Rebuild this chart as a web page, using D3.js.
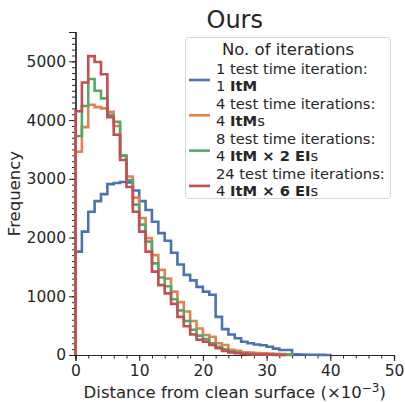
<!doctype html>
<html lang="en">
<head>
<meta charset="utf-8">
<script src="https://d3js.org/d3.v7.min.js"></script>
<style>
  body { margin: 0; background: #fff; }
  text { font-family: "DejaVu Sans", sans-serif; fill: #262626; }
</style>
</head>
<body>
<svg id="chart" width="405" height="402"></svg>
<script>
// histogram counts per bin, bins are 1 unit (x10^-3) wide starting at 0
var blueCounts = [1760, 2100, 2440, 2620, 2740, 2910, 2930, 2945, 2940, 2800,
  2620, 2470, 2270, 2075, 1945, 1740, 1540, 1365, 1270, 1160,
  1080, 1025, 650, 440, 350, 285, 225, 200, 180, 165,
  140, 108, 85, 85, 10, 8, 5, 4, 2, 1];
var orangeCounts = [3460, 3880, 4260, 4220, 4200, 4140, 3900, 3400, 3040, 2680,
  2330, 1990, 1700, 1450, 1300, 1080, 900, 740, 580, 450,
  340, 310, 200, 170, 90, 70, 45, 40, 35, 30,
  25, 22, 18, 12];
var greenCounts = [3730, 4240, 4700, 4500, 4370, 4090, 3970, 3390, 2980, 2560,
  2220, 1930, 1560, 1320, 1170, 950, 760, 580, 430, 330,
  270, 200, 140, 95, 60, 40, 28, 20, 13, 9,
  6, 4, 2, 1];
var redCounts = [4150, 4640, 5090, 4990, 4780, 4050, 3750, 3320, 2860, 2440,
  2100, 1760, 1420, 1190, 1050, 870, 650, 490, 350, 260,
  225, 170, 115, 70, 45, 30, 20, 14, 9, 6,
  4, 2, 1];

var seriesNames = ["blue", "orange", "green", "red"];
var seriesColors = ["#4C72B0", "#DD8452", "#55A868", "#C44E52"];
var legendFirst = ["1 test time iteration:", "4 test time iterations:", "8 test time iterations:", "24 test time iterations:"];
var legendSecond = [
  [["1 ", false], ["ItM", true]],
  [["4 ", false], ["ItM", true], ["s", false]],
  [["4 ", false], ["ItM \u00d7 2 EI", true], ["s", false]],
  [["4 ", false], ["ItM \u00d7 6 EI", true], ["s", false]]
];
var xTicks = [0, 10, 20, 30, 40, 50];
var yTicks = [0, 1000, 2000, 3000, 4000, 5000];

var allCounts = [blueCounts, orangeCounts, greenCounts, redCounts];

var svg = d3.select("#chart");
var plotL = 75.5, plotR = 394, plotT = 32, plotB = 355;

var x = d3.scaleLinear().domain([0, 50]).range([plotL, plotR]);
var y = d3.scaleLinear().domain([0, 5500]).range([plotB, plotT]);

// minor ticks first so majors draw over them
var xAxis = d3.axisBottom(x).tickValues(xTicks).tickSize(6).tickPadding(4).tickFormat(d3.format("d"));
var xMinor = d3.axisBottom(x).tickValues(d3.range(0, 51, 2)).tickSize(3.5).tickFormat("");
var yAxis = d3.axisLeft(y).tickValues(yTicks).tickSize(6.5).tickPadding(3).tickFormat(d3.format("d"));
var yMinor = d3.axisLeft(y).tickValues(d3.range(0, 5501, 100)).tickSize(3.5).tickFormat("");

svg.append("g").attr("transform", "translate(0," + plotB + ")").call(xMinor);
svg.append("g").attr("transform", "translate(" + plotL + ",0)").call(yMinor);
var gx = svg.append("g").attr("transform", "translate(0," + plotB + ")").call(xAxis);
var gy = svg.append("g").attr("transform", "translate(" + plotL + ",0)").call(yAxis);

svg.selectAll(".domain").attr("stroke", "#262626").attr("stroke-width", 1.2);
svg.selectAll(".tick line").attr("stroke", "#262626").attr("stroke-width", 1);
gx.selectAll("text").attr("font-size", 15.5).attr("fill", "#262626");
gy.selectAll("text").attr("font-size", 15.5).attr("fill", "#262626");

// step outlines
var line = d3.line().x(function(d){ return x(d[0]); }).y(function(d){ return y(d[1]); });
allCounts.forEach(function(counts, i){
  var pts = [[0, 0]];
  counts.forEach(function(v, k){
    pts.push([k, v]);
    pts.push([k + 1, v]);
  });
  pts.push([counts.length, 0]);
  svg.append("path")
    .attr("d", line(pts))
    .attr("fill", "none")
    .attr("stroke", seriesColors[i])
    .attr("stroke-width", 2.6)
    .attr("stroke-linejoin", "miter");
});

// labels
svg.append("text").attr("x", (plotL + plotR) / 2).attr("y", 28)
  .attr("text-anchor", "middle").attr("font-size", 24).text("Ours");
svg.append("text").attr("x", (plotL + plotR) / 2).attr("y", 398)
  .attr("text-anchor", "middle").attr("font-size", 16.5)
  .html("Distance from clean surface (\u00d710<tspan dy='-6' font-size='12'>\u22123</tspan><tspan dy='6'>)</tspan>");
svg.append("text").attr("transform", "translate(20," + ((plotT + plotB) / 2) + ") rotate(-90)")
  .attr("text-anchor", "middle").attr("font-size", 16.5).text("Frequency");

// legend
var lg = svg.append("g");
lg.append("rect").attr("x", 185.5).attr("y", 37.5).attr("width", 205).attr("height", 161)
  .attr("rx", 3).attr("fill", "#fff").attr("fill-opacity", 0.8)
  .attr("stroke", "#d6d6d6").attr("stroke-width", 1);
lg.append("text").attr("x", 288).attr("y", 55).attr("text-anchor", "middle")
  .attr("font-size", 16.5).text("No. of iterations");
seriesNames.forEach(function(name, i){
  var yy = 80 + i * 35.3;
  lg.append("line").attr("x1", 189).attr("x2", 210).attr("y1", yy).attr("y2", yy)
    .attr("stroke", seriesColors[i]).attr("stroke-width", 2.6);
  lg.append("text").attr("x", 216).attr("y", yy - 6.5).attr("font-size", 14.7).text(legendFirst[i]);
  var t = lg.append("text").attr("x", 216).attr("y", yy + 10.5).attr("font-size", 14.7);
  legendSecond[i].forEach(function(p){
    t.append("tspan").attr("font-weight", p[1] ? "bold" : "normal").text(p[0]);
  });
});
</script>
</body>
</html>
